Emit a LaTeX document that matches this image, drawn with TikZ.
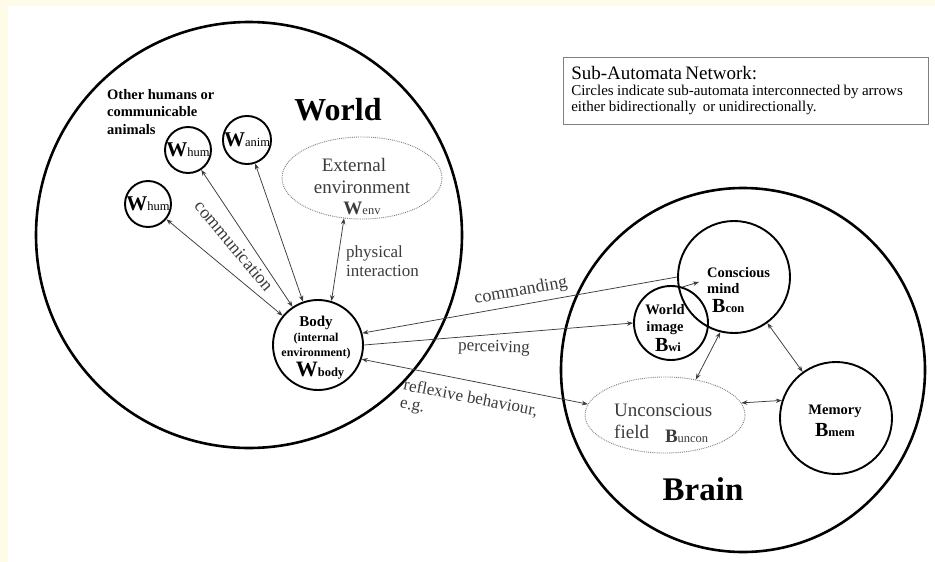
\documentclass[tikz,border=0pt]{standalone}
\usepackage{fontspec}
\setmainfont{Liberation Serif}
\usetikzlibrary{arrows.meta,shapes.geometric}
\definecolor{paper}{HTML}{FFFBE9}
\definecolor{ink}{HTML}{3C3C3C}
\newcommand{\fsz}[1]{\fontsize{#1}{#1}\selectfont}
\newcommand{\Aut}[3][21]{{\fsz{#1}\bfseries #2}{\fsz{12.5}#3}}

\begin{document}
\begin{tikzpicture}[x=1pt, y=-1pt, % pixel grid, y downwards
  bigcirc/.style={circle, draw, line width=2.6pt, inner sep=0pt},
  subcirc/.style={circle, draw, line width=1.9pt, inner sep=0pt},
  field/.style={ellipse, draw=gray, densely dotted, line width=0.9pt, inner sep=0pt},
  both/.style={draw=ink, line width=0.75pt, {Stealth[length=6pt,width=4.5pt]}-{Stealth[length=6pt,width=4.5pt]}},
  uni/.style={draw=ink, line width=0.75pt, -{Stealth[length=6pt,width=4.5pt]}},
  lbl/.style={text=ink, font=\fsz{17}, inner sep=0pt},
  boldtxt/.style={font=\bfseries, align=center, inner sep=0pt}]

% background
\useasboundingbox (0,0) rectangle (935,562);
\fill[paper] (0,0) rectangle (935,562);
\fill[white] (8,6) rectangle (935,562);

% legend
\node[draw=gray, line width=0.6pt, anchor=north west, align=left, inner xsep=8pt,
  text width=349pt, minimum width=365pt, minimum height=67pt] (legend) at (563,57)
  {{\fsz{19}Sub-Automata Network:}\\[1pt]
   {\fsz{15}Circles indicate sub-automata interconnected by arrows\\[1pt]
   either bidirectionally\ \ or unidirectionally.}};

% world
\node[bigcirc, minimum size=426pt] (world) at (249,235) {};
\node[font=\fsz{32}\bfseries] (worldlbl) at (338,110) {World};
\node[boldtxt, font=\fsz{14.5}\bfseries, align=left, anchor=north west] (others) at (107,89)
  {Other humans or\\[3pt] communicable\\[3pt] animals};

\node[subcirc, minimum size=46pt] (hum1) at (188,150) {\Aut{W}{hum}};
\node[subcirc, minimum size=48pt] (anim) at (247,140) {\Aut{W}{anim}};
\node[subcirc, minimum size=46pt] (hum2) at (148,204) {\Aut{W}{hum}};

\node[field, minimum width=160pt, minimum height=82pt] (env) at (362,178) {};
\node[lbl, font=\fsz{19}, align=center] (envtxt) at (362,187)
  {External\hspace*{16pt}\\[3pt] environment\\[2pt] \Aut[19]{W}{env}};

\node[subcirc, minimum size=90pt] (body) at (318,345) {};
\node[boldtxt] (bodytxt) at (316,348)
  {{\fsz{15}Body}\\[3pt]
   {\fsz{12}(internal\hspace*{32pt}}\\[3pt]
   {\fsz{12}environment)}\\[2pt]
   \hspace*{8pt}\Aut[22]{W}{body}};

% links inside the world
\draw[both] (body) -- (hum2);
\draw[both] (body) -- (hum1);
\draw[both] (body) -- (anim);
\draw[both] (body.73) -- (env.246);

\node[lbl, font=\fsz{18}, rotate=-50] (commlbl) at (234,246) {communication};
\node[lbl, align=left, anchor=west] (physlbl) at (346,261) {physical\\[2pt] interaction};

% brain
\node[bigcirc, minimum size=364pt] (brain) at (743,370) {};
\node[font=\fsz{33}\bfseries] (brainlbl) at (703,489) {Brain};

\node[subcirc, minimum size=112pt] (con) at (734,277) {};
\node[boldtxt, font=\fsz{14.5}\bfseries, align=left, anchor=west] (contxt) at (707,290)
  {Conscious\\[2pt] mind\\[4pt] \hspace*{5pt}\Aut[20]{B}{con}};

\node[subcirc, minimum size=74pt] (wi) at (671,323) {};
\node[boldtxt, font=\fsz{14.5}\bfseries] (witxt) at (665,328)
  {World\\[2pt] image\\[3pt] \hspace*{6pt}\Aut[20]{B}{wi}};

\node[subcirc, minimum size=112pt] (mem) at (836,418) {};
\node[boldtxt, font=\fsz{14.5}\bfseries] (memtxt) at (835,421)
  {Memory\\[5pt] \Aut[20]{B}{mem}};

\node[field, minimum width=160pt, minimum height=76pt] (uncon) at (665,415) {};
\node[lbl, font=\fsz{19}, align=left, anchor=west] (untxt) at (614,423)
  {Unconscious\\[3pt] field\hspace*{16pt}\raisebox{-4pt}{\Aut[19]{B}{uncon}}};

\coordinate (conin) at (699,282);

% links inside the brain
\draw[uni] (wi.72) -- (conin);
\draw[both] (con) -- (mem);
\draw[both] (con.-104) -- (uncon.49);
\draw[both] (uncon.9) -- (mem.162);

% links between world and brain
\draw[uni] (con.180) -- (body.15);
\draw[uni] (body.0) -- (wi.180);
\draw[both] (body.-18) -- (uncon.172);

\node[lbl, font=\fsz{18}, rotate=10] (cmdlbl) at (521,291) {commanding};
\node[lbl, rotate=-2] (perclbl) at (494,348) {perceiving};
\node[lbl, align=left, rotate=-11, anchor=north west] (reflbl) at (405,378)
  {reflexive behaviour,\\[1pt] e.g.};

\end{tikzpicture}
\end{document}
